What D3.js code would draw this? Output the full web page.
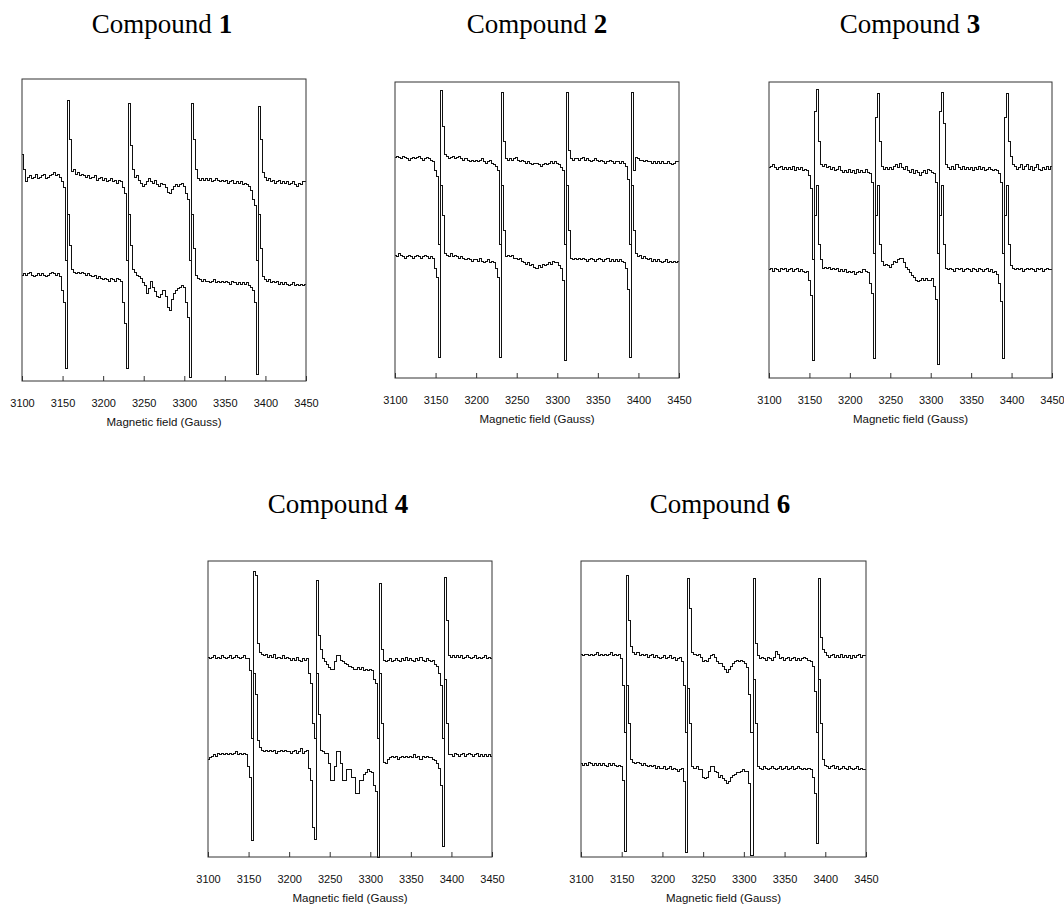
<!DOCTYPE html>
<html>
<head>
<meta charset="utf-8">
<script src="https://cdn.jsdelivr.net/npm/d3@7"></script>
<style>
  html, body { margin: 0; padding: 0; background: #fff; }
  svg { display: block; }
</style>
</head>
<body>
<svg width="1064" height="916"></svg>
<script>
const svg = d3.select("svg");

/* ==========================
   DATA  (signal in % of plot height, one value every 2.5 G from 3100 G)
========================== */

const fieldStart = 3100;
const fieldStep = 2.5;
const fieldDomain = [3100, 3450];
const fieldTicks = [3100, 3150, 3200, 3250, 3300, 3350, 3400, 3450];
const compoundNames = ["1", "2", "3", "4", "6"];

const c1Upper = [
    75, 70, 66, 67.5, 68, 67, 67.5, 68.5, 67, 67.5,
    68, 68.5, 67, 67.5, 68, 68.5, 69, 68, 68.5, 67.5,
    66, 64, 40, 93, 80, 69.5, 70, 68.5, 69, 68,
    68.5, 68, 67.5, 68, 67, 67.5, 68, 66.5, 67, 67.5,
    66.5, 67, 66, 66.5, 67, 66, 66.5, 65.5, 66.5, 66,
    64, 62, 40, 92, 78, 70, 67.5, 68, 66.5, 65.5,
    64.5, 65, 66, 67, 66, 65.5, 66.5, 65, 64.5, 65.5,
    65, 64, 62.5, 62, 63.5, 64.5, 65, 64.5, 65, 65.5,
    64.5, 62, 60, 40, 92, 80, 70, 67, 66.5, 67,
    66.5, 67, 66.5, 67, 66, 66.5, 67, 66.5, 66, 66.5,
    66, 66.5, 65.5, 66, 66.5, 65.5, 66, 65.5, 66, 65,
    65.5, 65, 64.5, 63, 60, 58, 40, 91, 80, 69,
    67.5, 66.5, 67, 66, 66.5, 65.5, 66, 66.5, 65.5, 66,
    65.5, 66, 65, 65.5, 66, 65, 64.5, 65.5, 65, 66,
    66];
const c1Lower = [
    35, 35.5, 35, 35.5, 36, 35, 34.5, 35, 35.5, 35,
    35.5, 35, 34.5, 35, 35.5, 36, 35.5, 35, 35.5, 34.5,
    30, 26, 4, 55, 45, 37, 36, 35.5, 36, 35.5,
    36, 35.5, 35, 35.5, 35, 34.5, 35, 34, 34.5, 34,
    33.5, 34, 33.5, 33, 34, 33.5, 33, 34, 33.5, 33,
    26, 19, 4, 55, 45, 37, 36, 35, 34.5, 34,
    32.5, 31.5, 29, 30.5, 33, 31, 29.5, 28, 27.5, 28.5,
    30, 28, 24.5, 23.5, 27, 29, 30, 30.5, 31, 31.5,
    31, 26, 21, 1, 55, 44, 35, 34, 33.5, 33,
    33.5, 33, 33, 32.5, 33, 33.5, 32.5, 33, 32.5, 33,
    32.5, 33, 32.5, 32, 33, 32.5, 32, 32.5, 32, 32.5,
    32, 32.5, 31.5, 31, 30, 26, 2, 55, 44, 34.5,
    33.5, 33, 33.5, 32.5, 33, 32.5, 33, 32, 32.5, 32,
    32.5, 32, 31.5, 32, 32.5, 31.5, 32, 31.5, 32, 31.5,
    32];

const c2Upper = [
    74.5, 75, 74.5, 74, 75, 74.5, 74, 73.5, 74, 74.5,
    74, 74.5, 75, 74, 73.5, 74, 74.5, 74, 73.5, 73,
    70, 68, 45, 97, 85, 75.5, 75, 74, 74.5, 75,
    74, 74.5, 75, 74, 73.5, 74, 73.5, 73, 73.5, 73,
    73.5, 73, 73.5, 74, 73, 72.5, 73, 73.5, 72.5, 72,
    71.5, 70, 45, 96.5, 80, 74, 73.5, 74, 73.5, 74,
    74.5, 73.5, 73, 73.5, 73, 72.5, 73, 72.5, 72, 72.5,
    72.5, 72, 71.5, 72, 72.5, 72, 72.5, 73, 72.5, 73,
    72.5, 72, 71, 70, 45, 96.5, 77, 74, 73.5, 74,
    74, 73.5, 74, 74.5, 73.5, 74, 73.5, 73, 73.5, 74,
    73.5, 73, 73.5, 73, 72.5, 73, 73.5, 73, 72.5, 73,
    73, 72.5, 73, 72.5, 71.5, 67, 45, 96.5, 70, 74.5,
    74, 73.5, 73.5, 73, 73.5, 73, 73, 72.5, 73, 72.5,
    73, 72.5, 73, 72.5, 72.5, 73, 72.5, 72, 72.5, 73,
    73];
const c2Lower = [
    41.5, 41, 42, 41.5, 41, 40.5, 41, 41.5, 41, 40.5,
    41, 41.5, 41, 40.5, 41, 41.5, 41, 40.5, 41, 40.5,
    37, 34, 7, 65, 55, 42, 41.5, 41, 42, 41,
    41.5, 41, 40.5, 41, 40.5, 40, 40.5, 40, 39.5, 40,
    40, 39.5, 40.5, 39.5, 39, 39.5, 40, 39, 39.5, 39,
    37, 34, 7, 65, 50, 41, 41.5, 41, 41.5, 40.5,
    40.5, 40, 40.5, 39.5, 39, 38.5, 39, 38, 38.5, 37.5,
    37, 38, 37.5, 38.5, 38, 38.5, 39, 38.5, 39.5, 39,
    39, 38, 37, 33, 6, 65, 50, 40.5, 40, 40.5,
    40, 40.5, 40, 40.5, 40, 39.5, 40, 40.5, 40, 39.5,
    40, 40.5, 40, 39.5, 40, 40.5, 39.5, 40, 39.5, 40,
    39.5, 40, 39.5, 39, 37, 30, 7, 65, 50, 42,
    41, 41.5, 40.5, 41, 40.5, 40, 40.5, 39.5, 40, 39.5,
    40, 39.5, 39, 39.5, 40, 39, 39.5, 39, 39.5, 39,
    39.5];

const c3Upper = [
    71, 71.5, 72, 71, 70.5, 71, 71.5, 70.5, 71, 70.5,
    71, 70.5, 71.5, 70, 71, 70.5, 71, 70, 70.5, 70,
    68.5, 64, 40, 90, 97.5, 80, 72, 71.5, 72, 71,
    71.5, 70.5, 71, 70, 70.5, 71.5, 70, 69.5, 70, 69.5,
    70.5, 69.5, 70, 69, 70.5, 69.5, 70, 69.5, 70.5, 69.5,
    69, 66, 42, 88, 96, 80, 71.5, 70.5, 71, 70.5,
    71, 70.5, 71.5, 72, 71, 72.5, 71, 70.5, 71.5, 70,
    69.5, 70.5, 69, 70, 69.5, 68.5, 69.5, 70, 69, 70.5,
    70, 69.5, 69, 66, 42, 90, 96.5, 86, 72, 71,
    70.5, 71.5, 70.5, 72, 71, 70.5, 71.5, 70.5, 71, 70.5,
    71, 70, 71, 70.5, 71.5, 70.5, 71, 70, 70.5, 71,
    70.5, 70, 70.5, 70, 69, 66, 42, 88, 96, 80,
    75, 72, 71.5, 70.5, 71, 72, 70.5, 71.5, 72, 70.5,
    71.5, 70, 71, 72, 70.5, 70, 71, 70.5, 71.5, 70.5,
    71.5];
const c3Lower = [
    36.5, 37, 36, 37, 36.5, 36, 37, 36.5, 37, 36,
    36.5, 37, 36, 36.5, 37, 36, 36.5, 36, 35.5, 36,
    33, 28, 6, 55, 65, 45, 40, 37, 37.5, 37,
    37.5, 36.5, 37, 36.5, 37, 36, 36.5, 36, 36.5, 35.5,
    36, 35.5, 36, 35, 35.5, 36, 35.5, 36.5, 36, 35.5,
    32, 28.5, 6.5, 55, 65, 45, 39.5, 38, 38.5, 38,
    37.5, 38.5, 39.5, 39, 40, 40.5, 40.5, 39, 37.5, 36.5,
    35.5, 34.5, 34, 33, 32.5, 33, 33.5, 33, 33.5, 33,
    33, 33.5, 31, 26.5, 4.5, 55, 65, 45, 37, 36.5,
    37, 36.5, 36, 37, 36.5, 37, 36, 36.5, 37, 36.5,
    36, 37, 36.5, 36, 37, 36.5, 36, 36.5, 37, 36,
    36.5, 35.5, 36, 35, 32, 26, 6.5, 55, 65, 45,
    38, 37, 36.5, 37, 36.5, 37, 36, 36.5, 37, 36.5,
    37, 36.5, 36, 37, 36.5, 37, 36, 36.5, 37, 36.5,
    36.5];

const c4Upper = [
    67.5, 67, 67.5, 68, 67, 67.5, 67, 68, 67.5, 67,
    67.5, 68, 67, 67.5, 68, 67.5, 67, 67.5, 68, 67,
    67, 63, 40, 96.5, 95, 72, 69, 68.5, 68, 68.5,
    67.5, 68, 67.5, 68.5, 67, 67.5, 67, 68, 67, 67.5,
    67, 66.5, 67, 66.5, 67.5, 66.5, 66, 67, 66.5, 67,
    62, 58.5, 45, 40, 93.5, 75, 70, 67, 66, 65,
    64, 63.5, 63.5, 66, 68, 68, 66.5, 66, 65.5, 65,
    64.5, 64, 63.5, 63.5, 64, 63.5, 64, 63, 63.5, 63,
    63.5, 63, 60, 58.5, 40, 92.5, 70, 66.5, 66, 66.5,
    67, 66, 66.5, 67, 66.5, 66, 67, 66.5, 67.5, 66.5,
    67, 66.5, 66, 67, 66.5, 67.5, 66.5, 66, 67, 66.5,
    66, 66.5, 65, 64.5, 62, 58, 40, 94.5, 80, 68,
    67.5, 68, 67.5, 68, 67.5, 68, 67, 67.5, 68, 67.5,
    67, 67.5, 68, 67, 67.5, 67, 67.5, 68, 67, 67.5,
    67];
const c4Lower = [
    33, 33.5, 34, 34.5, 34, 35, 34.5, 35, 34.5, 35,
    34.5, 35, 34.5, 35, 35.5, 34.5, 35, 34.5, 35, 34.5,
    30.5, 27, 5.5, 62, 55, 39.5, 37, 36, 35.5, 36,
    35.5, 36, 35.5, 36, 35, 35.5, 36, 35.5, 36, 35.5,
    35.5, 35, 35.5, 36, 35, 35.5, 36.5, 35, 35.5, 36,
    30, 26, 10, 6, 62, 48, 36, 35.5, 35, 35,
    31.5, 26, 26, 30.5, 35.5, 35.5, 31.5, 26, 26, 29.5,
    29.5, 27, 27, 21.5, 21.5, 26, 26, 28, 28.5, 29.5,
    29, 28.5, 24, 22, 0, 62, 45, 32, 31.5, 33,
    33.5, 34, 33.5, 34, 33, 33.5, 34, 33.5, 34, 33.5,
    34, 33.5, 34.5, 33.5, 34, 33, 34, 33.5, 34, 33.5,
    33.5, 33, 32.5, 31.5, 30, 24, 3.5, 60, 45, 34.5,
    34.5, 34, 35, 34.5, 34, 34.5, 35, 34, 34.5, 35,
    34.5, 34, 34.5, 35, 34, 34.5, 34, 34.5, 34, 34.5,
    34];

const c6Upper = [
    68.5, 68, 68.5, 68.5, 68, 68.5, 68, 68.5, 69, 68,
    68.5, 68, 68.5, 68, 68.5, 69, 68, 68.5, 68, 68.5,
    67, 58, 42, 95, 80, 71, 69, 68.5, 69, 68,
    68.5, 68, 68.5, 67.5, 68, 68.5, 67.5, 68, 67.5, 67,
    67.5, 68, 67, 67.5, 68, 67, 67.5, 66.5, 67, 67.5,
    66, 58, 42, 94, 84, 69, 68.5, 68, 68.5, 67.5,
    66, 66.5, 66, 67, 68, 68.5, 67.5, 66, 65.5, 65.5,
    64.5, 63.5, 62.5, 63.5, 64.5, 65.5, 66, 66.5, 66, 66.5,
    66, 65.5, 64, 55, 42, 94, 72, 68, 67, 67.5,
    67, 66.5, 67.5, 67, 66.5, 67.5, 69.5, 68.5, 67, 67.5,
    66.5, 67, 67.5, 66.5, 67, 67.5, 66.5, 67, 66.5, 67,
    67.5, 67, 66.5, 66, 64.5, 56, 42, 94, 74, 70,
    69, 68, 67.5, 68, 68.5, 67.5, 68, 67.5, 68.5, 67.5,
    68, 67.5, 68, 67, 68, 67.5, 68, 68.5, 67.5, 68,
    68];
const c6Lower = [
    31.5, 31, 31.5, 31, 32, 31.5, 31, 31.5, 31, 31.5,
    31, 31.5, 31, 30.5, 31.5, 31, 31.5, 31, 30.5, 31,
    30.5, 26, 2, 58, 45, 33, 32, 31.5, 32, 31.5,
    31, 31.5, 31, 30.5, 31, 30.5, 31, 30, 30.5, 30,
    30, 30.5, 29.5, 30, 30.5, 29.5, 30, 29.5, 29, 29.5,
    30, 25.5, 1.5, 57, 45, 30.5, 30, 30.5, 29.5, 29.5,
    27, 26.5, 27, 29, 30.5, 30.5, 29, 28.5, 27, 27.5,
    26.5, 26, 25, 25.5, 27, 27.5, 28, 28.5, 28.5, 29,
    29.5, 29, 29, 25, 0.5, 60, 45, 30.5, 30, 29.5,
    30.5, 30, 29.5, 30, 30.5, 30, 29.5, 30, 30.5, 29.5,
    30, 30.5, 29.5, 30, 30.5, 29.5, 30, 30.5, 30, 29.5,
    30, 29.5, 30, 29.5, 27, 21.5, 4.5, 60, 45, 33,
    31, 30.5, 30, 30.5, 31, 30, 30.5, 29.5, 30, 30.5,
    30, 29.5, 30.5, 30, 29.5, 30, 30.5, 29.5, 30, 29.5,
    29.5];

const spectra = [
    [c1Upper, c1Lower],
    [c2Upper, c2Lower],
    [c3Upper, c3Lower],
    [c4Upper, c4Lower],
    [c6Upper, c6Lower]
];

/* ==========================
   LAYOUT
========================== */

const boxes = [
    { left: 22, top: 79, right: 306, bottom: 381, titleX: 162, titleY: 33 },
    { left: 395, top: 82, right: 679, bottom: 378, titleX: 537, titleY: 33 },
    { left: 769, top: 82, right: 1052, bottom: 378, titleX: 910, titleY: 33 },
    { left: 208, top: 561, right: 492, bottom: 857, titleX: 338, titleY: 513 },
    { left: 581, top: 561, right: 866, bottom: 857, titleX: 720, titleY: 513 }
];

/* ==========================
   DRAW
========================== */

boxes.forEach((b, i) => {

    const x = d3.scaleLinear()
        .domain(fieldDomain)
        .range([b.left, b.right]);

    const y = d3.scaleLinear()
        .domain([0, 100])
        .range([b.bottom, b.top]);

    const line = d3.line()
        .x(d => x(d[0]))
        .y(d => y(d[1]))
        .curve(d3.curveStep);

    spectra[i].forEach(values => {
        const pts = values.map((v, k) => [fieldStart + k * fieldStep, v]);
        svg.append("path")
            .datum(pts)
            .attr("d", line)
            .attr("fill", "none")
            .attr("stroke", "#111")
            .attr("stroke-width", 1)
            .attr("shape-rendering", "crispEdges");
    });

    // frame
    svg.append("rect")
        .attr("x", b.left)
        .attr("y", b.top)
        .attr("width", b.right - b.left)
        .attr("height", b.bottom - b.top)
        .attr("fill", "none")
        .attr("stroke", "#333")
        .attr("stroke-width", 1);

    // x axis, ticks pointing inwards
    const axis = svg.append("g")
        .attr("transform", `translate(0,${b.bottom})`)
        .call(d3.axisBottom(x)
            .tickValues(fieldTicks)
            .tickFormat(d3.format("d"))
            .tickSizeInner(-5)
            .tickSizeOuter(0)
            .tickPadding(18));

    axis.select(".domain").remove();
    axis.selectAll("line").attr("stroke", "#333");
    axis.selectAll("text")
        .attr("font-family", "'Liberation Sans', Arial, sans-serif")
        .attr("font-size", 11)
        .attr("fill", "#111");

    svg.append("text")
        .attr("x", (b.left + b.right) / 2)
        .attr("y", b.bottom + 45)
        .attr("text-anchor", "middle")
        .attr("font-family", "'Liberation Sans', Arial, sans-serif")
        .attr("font-size", 11.5)
        .attr("fill", "#111")
        .text("Magnetic field (Gauss)");

    const title = svg.append("text")
        .attr("x", b.titleX)
        .attr("y", b.titleY)
        .attr("text-anchor", "middle")
        .attr("font-family", "'Liberation Serif', 'Times New Roman', serif")
        .attr("font-size", 27)
        .attr("fill", "#000");

    title.append("tspan").text("Compound ");
    title.append("tspan")
        .attr("font-weight", "bold")
        .text(compoundNames[i]);
});
</script>
</body>
</html>
